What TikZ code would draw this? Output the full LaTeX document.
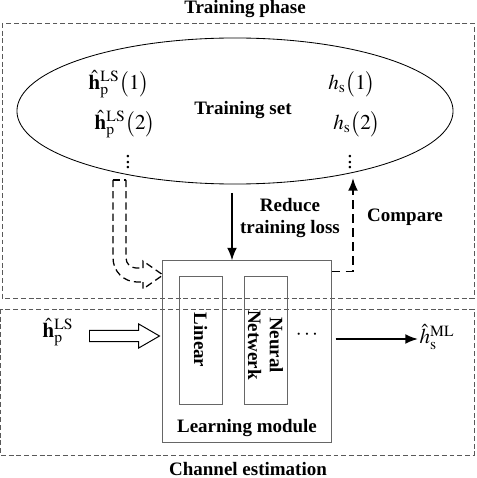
\documentclass[tikz,border=0pt]{standalone}
\usepackage{mathptmx}
\usepackage{fontspec}
\setmainfont{Liberation Serif}
\usetikzlibrary{arrows.meta,calc,positioning,shapes.geometric,shapes.arrows}

\begin{document}
\begin{tikzpicture}[
            x=0.025cm, y=-0.025cm,
            >=Latex,
            font=\fontsize{13.5}{15.5}\selectfont,
            lab/.style={font=\fontsize{13.5}{15.5}\selectfont\bfseries, align=center},
            sym/.style={font=\fontsize{15}{17}\selectfont, inner sep=1pt},
            phasebox/.style={draw=black!65, line width=0.6pt, dash pattern=on 3.5pt off 2pt},
            modbox/.style={draw=black!60, line width=0.7pt, rectangle, inner sep=0pt},
            subbox/.style={draw=black!60, line width=0.6pt, rectangle, inner sep=0pt,
                minimum width=1.075cm, minimum height=3.2cm},
            setell/.style={draw, line width=0.6pt, ellipse, inner sep=0pt,
                minimum width=10.9cm, minimum height=3.65cm},
            flow/.style={-{Latex[length=9pt,width=7pt]}, line width=1.3pt},
            dflow/.style={flow, dash pattern=on 6pt off 4pt},
            inarrow/.style={single arrow, draw, line width=0.7pt, inner sep=0.13cm,
                single arrow head extend=0.16cm, single arrow tip angle=60,
                minimum height=1.75cm, anchor=tail},
            dline/.style={line width=0.9pt, dash pattern=on 5pt off 3pt}
        ]
        \useasboundingbox (0,0) rectangle (476,478);

        % phases
        \draw[phasebox] (2,23) rectangle (474,298);
        \draw[phasebox] (0,309) rectangle (474,455);
        \node[lab, inner sep=0pt, anchor=base] (ttrain) at (245,13.5) {Training phase};
        \node[lab, inner sep=0pt, anchor=base] (tchan) at (248,475) {Channel estimation};

        % training set
        \node[setell] (set) at (235,111) {};
        \node[lab] (setlab) at (243,110) {Training set};
        \node[sym] (hp1) at (119,84) {$\hat{\mathbf{h}}_{\mathrm{p}}^{\mathrm{LS}}\bigl(1\bigr)$};
        \node[sym] (hp2) at (125,124) {$\hat{\mathbf{h}}_{\mathrm{p}}^{\mathrm{LS}}\bigl(2\bigr)$};
        \node[sym] (vd1) at (128,158) {$\vdots$};
        \node[sym] (hs1) at (352,84) {$h_{\mathrm{s}}\bigl(1\bigr)$};
        \node[sym] (hs2) at (357,124) {$h_{\mathrm{s}}\bigl(2\bigr)$};
        \node[sym] (vd2) at (350,158) {$\vdots$};

        % learning module
        \node[modbox, minimum width=4.2cm, minimum height=4.525cm] (learn) at (247,351.5) {};
        \node[subbox] (lin) at (200.5,340) {};
        \node[subbox] (nn) at (265.5,340) {};
        \node[lab, rotate=-90] (linlab) at (lin) {Linear};
        \node[lab, rotate=-90] (nnlab) at ($(nn)+(0,5)$) {Neural\\Netwerk};
        \node[sym] (cd) at (307,335) {$\cdots$};
        \node[lab] (learnlab) at (247,428) {Learning module};

        % input / output
        \node[sym] (hin) at (58,332) {$\hat{\mathbf{h}}_{\mathrm{p}}^{\mathrm{LS}}$};
        \node[sym] (hout) at (437,337) {$\hat{h}_{\mathrm{s}}^{\mathrm{ML}}$};
        \node[inarrow] (inarr) at (89,336) {};
        \draw[flow] (learn.east |- 0,339) ++(4,0) -- (hout.west |- 0,339);

        % training arrows
        \coordinate (rtop) at (232,193);
        \draw[flow] (rtop) -- (rtop |- learn.north);
        \node[lab] (reduce) at (290,218) {Reduce\\training loss};
        \coordinate (ctop) at (353,178);
        \draw[dflow] (learn.north east) ++(0,11) -| (ctop);
        \node[lab] (cmp) at (405,217) {Compare};

        % dashed hollow arrow
        \coordinate (dstart) at (119.5,180);
        \coordinate (dend) at (163,275);
        \draw[dline, rounded corners=0.25cm] ($(dstart)+(6.5,0)$) |- ($(dend)+(-20,-7)$);
        \draw[dline, rounded corners=0.6cm] ($(dstart)+(-6.5,0)$) |- ($(dend)+(-20,7)$);
        \draw[dline] ($(dstart)+(-6.5,0)$) -- ($(dstart)+(6.5,0)$);
        \draw[dline] ($(dend)+(-20,-7)$) -- ++(0,-7) -- (dend) -- ($(dend)+(-20,14)$) -- ++(0,-7);

    \end{tikzpicture}
\end{document}
